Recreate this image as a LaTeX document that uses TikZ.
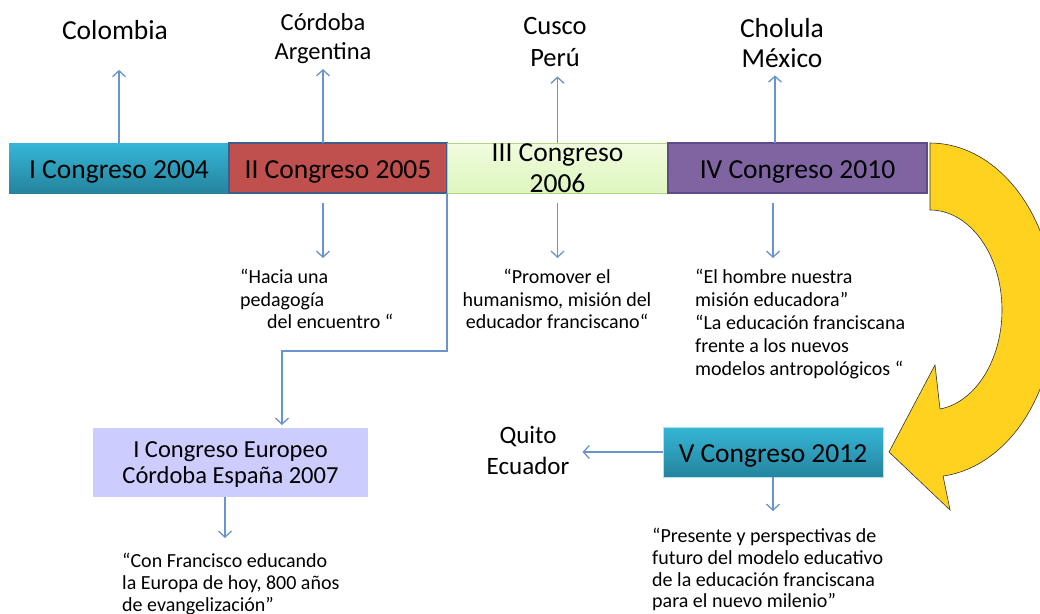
\documentclass[tikz,border=0pt]{standalone}
\usepackage{fontspec}
\setmainfont{Carlito}
\usetikzlibrary{positioning,arrows.meta}
\definecolor{teal1}{RGB}{54,182,214}
\definecolor{teal2}{RGB}{36,132,158}
\definecolor{rojo}{RGB}{192,80,77}
\definecolor{azulborde}{RGB}{59,94,140}
\definecolor{verde1}{RGB}{240,252,222}
\definecolor{verde2}{RGB}{222,246,190}
\definecolor{verdeborde}{RGB}{176,214,130}
\definecolor{morado}{RGB}{128,100,162}
\definecolor{moradoborde}{RGB}{95,75,135}
\definecolor{lila}{RGB}{204,204,255}
\definecolor{amarillo}{RGB}{255,210,32}
\definecolor{linea}{RGB}{106,148,204}
\tikzstyle{congreso}=[minimum height=50pt,inner sep=0pt,outer sep=0pt,text depth=0pt,align=center,font=\fontsize{27.5}{31}\selectfont]
\tikzstyle{fila}=[congreso,text height=20pt]
\tikzstyle{lugar}=[align=center,inner sep=0pt]
\tikzstyle{lema}=[inner sep=0pt,font=\fontsize{20}{22.5}\selectfont]
\tikzstyle{link}=[draw=linea,line width=1.3pt,-{Straight Barb[length=6pt,width=13pt]}]

\begin{document}
\begin{tikzpicture}[x=1pt,y=-1pt]
	\useasboundingbox (0,0) rectangle (1040,613);
	\begin{scope}
		\clip (0,0) rectangle (1040,613);
		\filldraw[fill=amarillo,draw=black!80,line width=0.6pt]
			plot[domain=90:-84,samples=60,variable=\t] ({930+125*cos(\t)},{310-167*sin(\t)})
			-- (950,510) -- (889,452) -- (935,365) -- (940,409)
			-- plot[domain=-82:90,samples=60,variable=\t] ({930+72*cos(\t)},{310-100*sin(\t)})
			-- cycle;
	\end{scope}

	\node(c1)[fila,minimum width=220pt,top color=teal1,bottom color=teal2] at (119,168) {I Congreso 2004};
	\node(c2)[fila,minimum width=218pt,fill=rojo,draw=azulborde,line width=1.5pt,right=0pt of c1] {II Congreso 2005};
	\node(c3)[congreso,minimum width=221pt,top color=verde1,bottom color=verde2,draw=verdeborde,line width=0.8pt,right=0pt of c2] {III Congreso\\2006};
	\node(c4)[fila,minimum width=259pt,fill=morado,draw=moradoborde,line width=1.5pt,right=0pt of c3] {IV Congreso 2010};
	\node(c5)[fila,minimum width=220pt,top color=teal1,bottom color=teal2,draw=teal1!40,line width=1pt] at (773,452) {V Congreso 2012};
	\node(eu)[congreso,minimum width=275pt,minimum height=69pt,fill=lila,font=\fontsize{24.5}{26}\selectfont] at (230.5,462.5) {I Congreso Europeo\\Córdoba España 2007};

	\node(l1)[lugar,font=\fontsize{27.5}{30}\selectfont] at (115,30) {Colombia};
	\node(l2)[lugar,font=\fontsize{24.5}{29.5}\selectfont] at (323,38.5) {Córdoba\\Argentina};
	\node(l3)[lugar,font=\fontsize{26.5}{32}\selectfont] at (555,42) {Cusco\\Perú};
	\node(l4)[lugar,font=\fontsize{27.5}{30}\selectfont] at (782,43) {Cholula\\México};
	\node(l5)[lugar,font=\fontsize{25}{31}\selectfont] at (528,450) {Quito\\Ecuador};

	\node(q2)[lema,align=left,anchor=north west] at (240,269) {“Hacia una\\pedagogía\\\hspace*{27pt}del encuentro “};
	\node(q3)[lema,align=center,anchor=north] at (557,269) {“Promover el\\humanismo, misión del\\educador franciscano“};
	\node(q4)[lema,align=left,anchor=north west,font=\fontsize{20}{23}\selectfont] at (695,269) {“El hombre nuestra\\misión educadora”\\“La educación franciscana\\frente a los nuevos\\modelos antropológicos “};
	\node(q5)[lema,align=left,anchor=north west,font=\fontsize{20}{21.7}\selectfont] at (652,528) {“Presente y perspectivas de\\futuro del modelo educativo\\de la educación franciscana\\para el nuevo milenio”};
	\node(q6)[lema,align=left,anchor=north west,font=\fontsize{20}{22}\selectfont] at (122,553) {“Con Francisco educando\\la Europa de hoy, 800 años\\de evangelización”};

	\draw[link,shorten >=30pt] (c1.north) -- (c1.north |- l1.south);
	\draw[link,shorten >=5pt] (l2.south |- c2.north) -- (l2.south);
	\draw[link,shorten >=9.5pt] (c3.north) -- (c3.north |- l3.south);
	\draw[link,shorten >=7.5pt] ([xshift=-7pt]l4.south |- c4.north) -- ([xshift=-7pt]l4.south);

	\draw[link,shorten <=10pt,shorten >=11pt] (l2.south |- c2.south) -- (l2.south |- q2.north);
	\draw[link,shorten <=10pt,shorten >=11pt] (c3.south) -- (c3.south |- q3.north);
	\draw[link,shorten <=10pt,shorten >=11pt] (c5.north |- c4.south) -- (c5.north |- q4.north);
	\draw[link,shorten >=17pt] (c5.south) -- (c5.south |- q5.north);
	\draw[link,shorten >=13pt] (c5.west) -- (c5.west -| l5.east);
	\draw[link,shorten >=15pt] ([xshift=-5.5pt]eu.south) -- ([xshift=-5.5pt]eu.south |- q6.north);
	\draw[link,shorten >=3pt] (c2.south east) -- ++(0,158) -| ([xshift=51.5pt]eu.north);
\end{tikzpicture}
\end{document}
